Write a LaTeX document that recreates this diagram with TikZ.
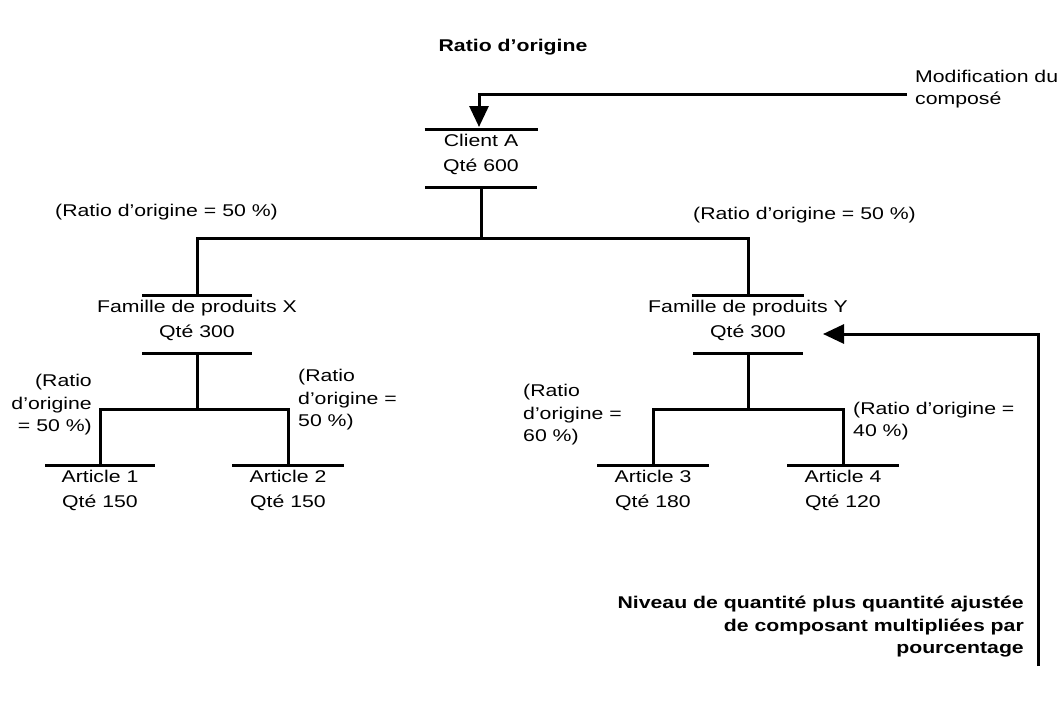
\documentclass[tikz,border=0pt]{standalone}
\usepackage{fontspec}
\setmainfont{Liberation Sans}[FakeStretch=1.25]
\usetikzlibrary{arrows.meta}

\begin{document}
\begin{tikzpicture}[x=1pt, y=-1pt,
  every node/.style={inner sep=0pt, font=\fontsize{17}{22.5}\selectfont},
  entity/.style={align=center, font=\fontsize{17}{25}\selectfont},
  ratio/.style={font=\fontsize{17}{22.5}\selectfont},
  heading/.style={font=\fontsize{17}{22.5}\selectfont\bfseries},
  rule/.style={line width=3pt},
  link/.style={line width=3pt},
  tip/.style={-{Triangle[length=21pt,width=19pt]}},
]
% canvas
\path[use as bounding box, fill=white] (0,0) rectangle (1063,723);

% title
\node[heading] (title) at (513,47) {Ratio d'origine};

% tree nodes
\node[entity] (cA) at (481,154.5) {Client A\\Qté 600};
\node[entity] (fx) at (197,320.5) {Famille de produits X\\Qté 300};
\node[entity] (fy) at (748,320.5) {Famille de produits Y\\Qté 300};
\node[entity] (a1) at (100,490.5) {Article 1\\Qté 150};
\node[entity] (a2) at (288,490.5) {Article 2\\Qté 150};
\node[entity] (a3) at (653,490.5) {Article 3\\Qté 180};
\node[entity] (a4) at (843,490.5) {Article 4\\Qté 120};

% attachment points above and below each node
\foreach \n in {cA,fx,fy,a1,a2,a3,a4}{
  \coordinate (\n-t) at ([shift={(0,-25.5)}]\n.center);
  \coordinate (\n-b) at ([shift={(0,32.5)}]\n.center);
}

% rules above every node, below the non-leaf ones
\foreach \n/\w in {cA/56.5,fx/55,fy/56,a1/55,a2/56,a3/56,a4/56}{
  \draw[rule] ([xshift=-\w pt]\n-t) -- ([xshift=\w pt]\n-t);
}
\foreach \n/\w in {cA/56,fx/55,fy/55}{
  \draw[rule] ([xshift=-\w pt]\n-b) -- ([xshift=\w pt]\n-b);
}

% tree connectors
\coordinate (busA) at ([shift={(0,51)}]cA-b);
\coordinate (busX) at ([shift={(0,56)}]fx-b);
\coordinate (busY) at ([shift={(0,56)}]fy-b);
\draw[link] (cA-b) -- (busA);
\draw[link] (fx-t) |- (busA) -| (fy-t);
\draw[link] (fx-b) -- (busX);
\draw[link] (a1-t) |- (busX) -| (a2-t);
\draw[link] (fy-b) -- (busY);
\draw[link] (a3-t) |- (busY) -| (a4-t);

% ratio labels
\node[ratio, anchor=west] (rX) at (55,212) {(Ratio d'origine = 50 \%)};
\node[ratio, anchor=west] (rY) at (693,215) {(Ratio d'origine = 50 \%)};
\node[ratio, anchor=east, align=right] (r1) at (92,405) {(Ratio\\d'origine\\= 50 \%)};
\node[ratio, anchor=west, align=left] (r2) at (298,400) {(Ratio\\d'origine =\\50 \%)};
\node[ratio, anchor=west, align=left] (r3) at (523,415) {(Ratio\\d'origine =\\60 \%)};
\node[ratio, anchor=west, align=left] (r4) at (853,421) {(Ratio d'origine =\\40 \%)};

% change entering at the top
\node[ratio, anchor=west, align=left] (mod) at (915,89) {Modification du\\composé};
\draw[link, tip] ([shift={(-8,5)}]mod.west) -| ([shift={(-2,-2)}]cA-t);

% adjusted quantity fed back to family Y
\node[heading, anchor=east, align=right] (note) at (1024,627)
  {Niveau de quantité plus quantité ajustée\\de composant multipliées par\\pourcentage};
\coordinate (noteTail) at ([shift={(14,39)}]note.east);
\coordinate (fyIn) at ([shift={(75,13.5)}]fy.center);
\draw[link, tip] (noteTail) |- (fyIn);
\end{tikzpicture}
\end{document}
